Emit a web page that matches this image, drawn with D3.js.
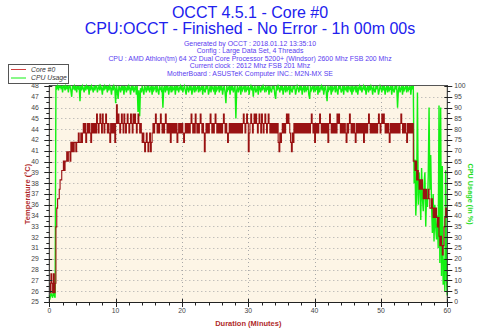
<!DOCTYPE html>
<html>
<head>
<meta charset="utf-8">
<script src="https://cdn.jsdelivr.net/npm/d3@7"></script>
<style>
  html, body { margin: 0; padding: 0; background: #fff; }
  svg { display: block; font-family: "Liberation Sans", Arial, sans-serif; }
</style>
</head>
<body>
<svg id="chart" width="500" height="334"></svg>
<script>
// Sampling interval of the log, in minutes (8 readings per minute)
const sampleStep = 0.125;

// Core #0 temperature (°C); each row covers 2.5 minutes
const coreTemp = [
  27,26,28,27,26,28,26,27,33,35,36,36,37,38,38,39,39,40,39,40,
  40,41,40,41,41,40,42,41,42,41,42,42,41,42,42,43,42,42,43,42,
  43,44,43,44,42,43,44,43,44,43,42,44,43,44,43,44,43,45,44,43,
  44,45,44,43,45,44,43,44,45,44,43,44,43,42,44,43,44,43,44,42,
  44,46,44,45,44,43,44,45,44,43,45,44,43,44,45,44,43,44,45,44,
  43,45,44,45,44,43,44,45,44,43,44,43,42,43,42,41,42,43,42,41,
  42,43,41,42,43,44,43,44,45,44,43,44,43,44,45,44,43,44,43,44,
  45,44,43,44,43,44,42,44,43,44,43,44,43,44,42,43,44,43,44,43,
  44,43,42,43,44,43,44,43,44,43,44,45,44,43,44,43,45,44,43,44,
  43,44,45,44,43,44,43,41,43,44,43,44,43,44,45,44,43,44,43,44,
  45,44,43,44,43,44,43,44,43,44,45,44,43,44,43,42,43,44,43,44,
  43,44,43,44,43,44,43,44,43,44,43,44,43,44,45,44,43,44,45,44,
  41,43,44,45,44,43,44,45,44,45,44,43,44,45,44,43,45,44,43,44,
  45,44,43,44,45,44,43,44,43,44,43,44,43,44,43,44,42,41,43,42,
  43,44,43,44,43,44,45,44,45,44,43,42,41,43,42,44,43,44,43,44,
  43,44,43,44,43,44,43,44,43,44,43,44,43,44,43,44,45,44,43,44,
  42,44,43,44,43,44,45,44,43,44,43,44,43,44,43,44,42,44,45,44,
  43,44,43,44,43,44,43,45,44,45,44,43,44,43,44,43,44,43,42,44,
  43,44,45,44,43,44,43,44,43,42,44,43,44,43,44,43,44,43,44,42,
  44,43,44,43,44,45,44,43,44,43,44,43,44,43,44,43,44,45,44,43,
  44,45,44,45,44,43,44,43,44,43,42,44,43,44,43,44,43,44,43,44,
  43,44,43,44,45,44,43,44,43,44,43,42,44,43,44,43,44,43,44,40,
  40,39,40,38,39,38,37,38,37,38,37,36,37,36,37,36,36,37,36,35,
  35,36,35,34,35,34,35,34,33,34,32,31,32,31,30,31,33,34,35,34,
  34
];

// CPU usage (%); each row covers 2.5 minutes
const cpuUsage = [
  3,2,4,3,2,5,3,2,100,99,100,98,100,100,99,100,97,100,100,98,
  100,99,100,97,100,100,98,95,100,99,100,98,100,97,100,99,100,93,100,98,
  100,99,97,100,98,100,99,100,96,100,98,100,99,97,100,98,100,100,97,99,
  100,98,100,99,96,100,98,100,99,100,97,100,98,100,99,96,100,98,100,99,
  92,100,98,94,100,99,97,100,98,100,96,100,99,97,100,98,100,99,96,100,
  98,100,97,99,100,96,100,88,98,86,99,97,100,98,96,100,99,97,100,98,
  100,97,99,100,96,100,98,99,100,97,100,98,96,100,99,98,100,90,99,100,
  97,100,98,100,96,99,100,97,100,98,99,100,96,100,98,100,97,99,100,98,
  100,97,99,100,98,96,100,99,97,100,98,100,96,99,100,97,100,98,99,100,
  97,100,98,99,100,96,100,98,97,100,99,100,96,98,100,97,100,99,98,100,
  96,100,98,99,100,97,100,98,100,96,99,100,97,92,100,98,99,100,96,100,
  98,100,97,99,100,85,98,100,97,99,100,96,100,98,99,100,97,100,98,99,
  100,96,99,100,98,100,95,99,100,97,98,100,96,100,99,97,100,98,100,99,
  97,100,98,99,100,96,100,98,97,100,99,100,96,94,100,98,100,99,97,100,
  98,100,96,99,100,97,100,98,99,100,96,100,98,97,100,99,100,96,98,100,
  99,97,100,98,100,96,99,100,97,100,98,99,100,96,94,100,98,99,100,97,
  100,98,99,100,96,100,97,99,100,98,100,96,99,100,97,93,100,98,99,100,
  96,100,98,99,100,97,100,98,96,100,99,100,97,98,100,96,100,99,98,100,
  97,100,99,98,100,96,100,98,99,100,97,100,96,99,100,98,100,97,99,100,
  98,100,96,99,100,97,100,98,100,99,96,100,98,97,100,99,100,96,98,100,
  99,97,100,98,100,96,99,100,97,100,98,99,100,96,100,98,97,100,99,100,
  90,98,100,97,99,100,96,100,98,99,100,97,100,98,99,100,96,100,99,100,
  55,66,40,50,97,45,60,52,38,62,48,42,55,60,35,50,44,58,90,52,
  68,45,32,50,28,45,35,29,40,25,91,18,90,12,63,8,20,5,61,10,
  3
];

// Axis tick labels
const tempTickLabels = ["48","47","46","45","44","42","41","40","39","38","37","36","34","33","32","31","29","28","27","26","25"];
const cpuTickLabels = [0,5,10,15,20,25,30,35,40,45,50,55,60,65,70,75,80,85,90,95,100];
const minuteTickLabels = [0,10,20,30,40,50,60];

// Header text
const titleLines = ["OCCT 4.5.1 - Core #0", "CPU:OCCT - Finished - No Error - 1h 00m 00s"];
const infoLines = [
  "Generated by OCCT : 2018.01.12 13:35:10",
  "Config : Large Data Set, 4 Threads",
  "CPU : AMD Athlon(tm) 64 X2 Dual Core Processor 5200+ (Windsor) 2600 Mhz FSB 200 Mhz",
  "Current clock : 2612 Mhz FSB 201 Mhz",
  "MotherBoard : ASUSTeK Computer INC.: M2N-MX SE"
];
const seriesNames = ["Core #0", "CPU Usage"];

const svg = d3.select("#chart");
const plot = { left: 49.3, right: 447.3, top: 86, bottom: 302 };
const tempColor = "#9a1212";
const cpuColor = "#12f012";

const x = d3.scaleLinear().domain([0, 60]).range([plot.left, plot.right]);
const yT = d3.scaleLinear().domain([25, 48]).range([plot.bottom, plot.top]);
const yC = d3.scaleLinear().domain([0, 100]).range([plot.bottom, plot.top]);

// Header
svg.selectAll("text.title").data(titleLines).join("text")
  .attr("class", "title")
  .attr("x", 250).attr("y", (d, i) => 17.5 + i * 16.8)
  .attr("text-anchor", "middle")
  .attr("font-size", 16).attr("fill", "#2121ee")
  .text(d => d);

svg.selectAll("text.info").data(infoLines).join("text")
  .attr("class", "info")
  .attr("x", 250).attr("y", (d, i) => 45.5 + i * 7.6)
  .attr("text-anchor", "middle")
  .attr("font-size", 6.9).attr("fill", "#5a3cf0")
  .text(d => d);

// Plot background
svg.append("rect")
  .attr("x", plot.left).attr("y", plot.top)
  .attr("width", plot.right - plot.left).attr("height", plot.bottom - plot.top)
  .attr("fill", "#fdf5e6");

// Temperature tick positions: evenly spaced across the temperature range
const tempTicks = tempTickLabels.map((lab, i) => ({
  v: 48 - i * (48 - 25) / (tempTickLabels.length - 1), lab
}));

// Grid
const grid = svg.append("g").attr("stroke", "#a8a8a8").attr("stroke-dasharray", "1,3").attr("stroke-width", 1);
grid.selectAll("line.h").data(tempTicks.slice(1, -1)).join("line")
  .attr("x1", plot.left).attr("x2", plot.right)
  .attr("y1", d => Math.round(yT(d.v)) + 0.5).attr("y2", d => Math.round(yT(d.v)) + 0.5);
grid.selectAll("line.v").data(minuteTickLabels.slice(1, -1)).join("line")
  .attr("y1", plot.top).attr("y2", plot.bottom)
  .attr("x1", d => Math.round(x(d)) + 0.5).attr("x2", d => Math.round(x(d)) + 0.5);

// Top frame
svg.append("line")
  .attr("x1", plot.left).attr("x2", plot.right)
  .attr("y1", plot.top - 0.5).attr("y2", plot.top - 0.5)
  .attr("stroke", "#555");

// Series
const time = (d, i) => i * sampleStep;
const cpuLine = d3.line().x((d, i) => x(time(d, i))).y(d => yC(d));
const tempLine = d3.line().x((d, i) => x(time(d, i))).y(d => yT(d)).curve(d3.curveStepAfter);

svg.append("path").datum(cpuUsage)
  .attr("d", cpuLine).attr("fill", "none")
  .attr("stroke", cpuColor).attr("stroke-width", 1.4);
svg.append("path").datum(coreTemp)
  .attr("d", tempLine).attr("fill", "none")
  .attr("stroke", tempColor).attr("stroke-width", 1.1);

// Axes
const axes = svg.append("g").attr("stroke", "#222").attr("stroke-width", 1);
// left
axes.append("line").attr("x1", plot.left).attr("x2", plot.left).attr("y1", plot.top - 1).attr("y2", plot.bottom);
axes.selectAll("line.tl").data(tempTicks).join("line")
  .attr("x1", plot.left - 5).attr("x2", plot.left + 3)
  .attr("y1", d => Math.round(yT(d.v)) + 0.5).attr("y2", d => Math.round(yT(d.v)) + 0.5);
axes.selectAll("line.tm").data(tempTicks.slice(1)).join("line")
  .attr("x1", plot.left - 3).attr("x2", plot.left)
  .attr("y1", d => Math.round(yT(d.v + 0.575)) + 0.5).attr("y2", d => Math.round(yT(d.v + 0.575)) + 0.5);
// right
axes.append("line").attr("x1", plot.right).attr("x2", plot.right).attr("y1", plot.top - 1).attr("y2", plot.bottom);
axes.selectAll("line.cl").data(cpuTickLabels).join("line")
  .attr("x1", plot.right - 3).attr("x2", plot.right + 5)
  .attr("y1", d => Math.round(yC(d)) + 0.5).attr("y2", d => Math.round(yC(d)) + 0.5);
axes.selectAll("line.cm").data(cpuTickLabels.slice(1)).join("line")
  .attr("x1", plot.right).attr("x2", plot.right + 3)
  .attr("y1", d => Math.round(yC(d - 2.5)) + 0.5).attr("y2", d => Math.round(yC(d - 2.5)) + 0.5);
// bottom
axes.append("line").attr("x1", plot.left - 5).attr("x2", plot.right + 5).attr("y1", plot.bottom + 0.5).attr("y2", plot.bottom + 0.5);
axes.selectAll("line.xl").data(minuteTickLabels).join("line")
  .attr("x1", d => Math.round(x(d)) + 0.5).attr("x2", d => Math.round(x(d)) + 0.5)
  .attr("y1", plot.bottom - 3).attr("y2", plot.bottom + 5);
axes.selectAll("line.xm").data(d3.range(2, 60, 2).filter(m => m % 10 !== 0)).join("line")
  .attr("x1", d => Math.round(x(d)) + 0.5).attr("x2", d => Math.round(x(d)) + 0.5)
  .attr("y1", plot.bottom).attr("y2", plot.bottom + 3.5);

// Tick labels
const lab = svg.append("g").attr("font-size", 6.8).attr("fill", "#444");
lab.selectAll("text.tl").data(tempTicks).join("text")
  .attr("x", plot.left - 10.5).attr("y", d => yT(d.v) + 2.4)
  .attr("text-anchor", "end").text(d => d.lab);
lab.selectAll("text.cl").data(cpuTickLabels).join("text")
  .attr("x", plot.right + 7).attr("y", d => yC(d) + 2.4)
  .attr("text-anchor", "start").text(d => d);
lab.selectAll("text.xl").data(minuteTickLabels).join("text")
  .attr("x", d => x(d)).attr("y", plot.bottom + 11)
  .attr("text-anchor", "middle").text(d => d);

// Axis titles
svg.append("text")
  .attr("x", (plot.left + plot.right) / 2).attr("y", 326)
  .attr("text-anchor", "middle").attr("font-size", 7.5).attr("font-weight", "bold")
  .attr("fill", "#b02a2a").text("Duration (Minutes)");
svg.append("text")
  .attr("transform", `translate(30,${(plot.top + plot.bottom) / 2}) rotate(-90)`)
  .attr("text-anchor", "middle").attr("font-size", 7.5).attr("font-weight", "bold")
  .attr("fill", "#b02a2a").text("Temperature (°C)");
svg.append("text")
  .attr("transform", `translate(468,${(plot.top + plot.bottom) / 2}) rotate(90)`)
  .attr("text-anchor", "middle").attr("font-size", 7.3).attr("font-weight", "bold")
  .attr("fill", "#22dd22").text("CPU Usage (in %)");

// Legend
const legend = svg.append("g");
legend.append("rect")
  .attr("x", 8.5).attr("y", 64.5).attr("width", 60).attr("height", 19)
  .attr("fill", "#fff").attr("stroke", "#555");
legend.selectAll("line").data(seriesNames).join("line")
  .attr("x1", 11).attr("x2", 26)
  .attr("y1", (d, i) => 69.5 + i * 8.5).attr("y2", (d, i) => 69.5 + i * 8.5)
  .attr("stroke", (d, i) => i === 0 ? "#d04040" : cpuColor).attr("stroke-width", 1);
legend.selectAll("text").data(seriesNames).join("text")
  .attr("x", 31).attr("y", (d, i) => 71.8 + i * 8.5)
  .attr("font-size", 6.8).attr("font-style", "italic").attr("fill", "#333")
  .text(d => d);
</script>
</body>
</html>
